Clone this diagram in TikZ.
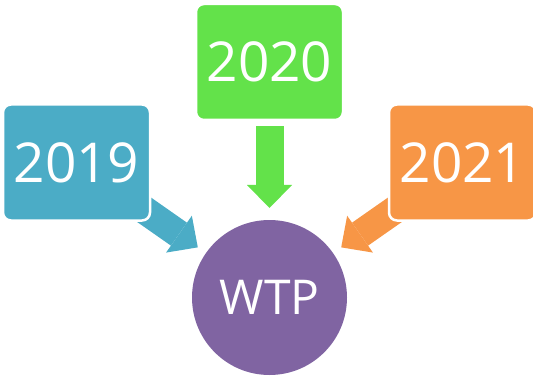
\documentclass[tikz,border=0pt]{standalone}
\usepackage{fontspec}
\setmainfont{Open Sans}
\usetikzlibrary{arrows.meta,backgrounds}
\definecolor{yrblue}{RGB}{75,172,198}
\definecolor{yrgreen}{RGB}{99,226,74}
\definecolor{yrorange}{RGB}{247,150,70}
\definecolor{wtppurple}{RGB}{128,100,162}
\begin{document}
\begin{tikzpicture}[x=1pt,y=-1pt,
  yearbox/.style={rectangle,rounded corners=8pt,draw=white,line width=2.5pt,
    minimum width=147pt,minimum height=116pt,inner sep=0pt,
    text=white,font=\fontsize{55}{62}\selectfont},
  bigarrow/.style={line width=28pt,
    -{Triangle[width=45pt,length=23pt,line width=0pt]}}]
  \useasboundingbox (0,0) rectangle (533,377);

  \node[yearbox,fill=yrblue] (y2019) at (76.5,162.5) {2019};
  \node[yearbox,fill=yrgreen] (y2020) at (269.5,62) {2020};
  \node[yearbox,fill=yrorange] (y2021) at (462.5,162.5) {2021};
  \node[circle,fill=wtppurple,minimum size=155pt,inner sep=0pt,outer sep=0pt,
    text=white,font=\fontsize{48}{54}\selectfont] (wtp) at (269.5,297.5) {WTP};

  % arrows go under the boxes
  \begin{scope}[on background layer]
  \draw[bigarrow,yrblue,shorten >=10pt] (y2019.center) -- (wtp);
  \draw[bigarrow,yrgreen,shorten <=5pt,shorten >=12pt] (y2020.south) -- (wtp);
  \draw[bigarrow,yrorange,shorten >=10pt] (y2021.center) -- (wtp);
  \end{scope}
\end{tikzpicture}
\end{document}
